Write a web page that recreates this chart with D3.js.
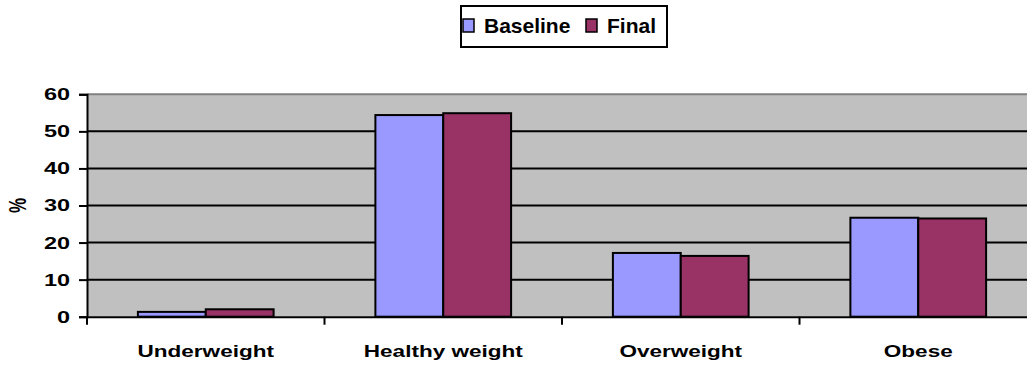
<!DOCTYPE html>
<html>
<head>
<meta charset="utf-8">
<script src="https://cdn.jsdelivr.net/npm/d3@7"></script>
<style>
  html, body { margin: 0; padding: 0; background: #fff; }
  svg { display: block; }
  text { font-family: "Liberation Sans", Arial, sans-serif; font-weight: bold; fill: #000; }
</style>
</head>
<body>
<svg id="chart" width="1027" height="366"></svg>
<script>
// BMI category shares at baseline and at the final visit (%)
const categories = ["Underweight", "Healthy weight", "Overweight", "Obese"];
const seriesNames = ["Baseline", "Final"];
const baseline = [1.3, 54.4, 17.2, 26.7];
const final = [2.0, 54.9, 16.4, 26.5];
const yTicks = [0, 10, 20, 30, 40, 50, 60];
const seriesColors = ["#9999FF", "#993366"];

const svg = d3.select("#chart");

// plot area (runs a little past the right edge of the page)
const plotLeft = 87, plotRight = 1037, plotTop = 94.3, plotBottom = 316.7;
// axis lettering is drawn horizontally widened
const stretch = 1.38;

const x = d3.scaleBand().domain(categories).range([plotLeft, plotRight]).padding(0);
const xs = d3.scaleBand().domain(seriesNames).range([0, x.bandwidth()])
  .paddingInner(0).paddingOuter(0.75);
const y = d3.scaleLinear().domain([0, 60]).range([plotBottom, plotTop]);

// plot background
svg.append("rect")
  .attr("x", plotLeft).attr("y", plotTop)
  .attr("width", plotRight - plotLeft).attr("height", plotBottom - plotTop)
  .attr("fill", "#C0C0C0");

// gridlines
svg.append("g")
  .selectAll("line")
  .data(yTicks.filter(t => t > 0))
  .join("line")
  .attr("x1", plotLeft).attr("x2", plotRight)
  .attr("y1", d => y(d)).attr("y2", d => y(d))
  .attr("stroke", d => d === 60 ? "#808080" : "#000")
  .attr("stroke-width", 2);

// bars
const rows = categories.map((c, i) => ({ cat: c, values: [baseline[i], final[i]] }));
svg.append("g")
  .selectAll("g")
  .data(rows)
  .join("g")
  .attr("transform", d => `translate(${x(d.cat)},0)`)
  .selectAll("rect")
  .data(d => d.values.map((v, j) => ({ name: seriesNames[j], value: v, color: seriesColors[j] })))
  .join("rect")
  .attr("x", d => xs(d.name))
  .attr("width", xs.bandwidth())
  .attr("y", d => y(d.value))
  .attr("height", d => y(0) - y(d.value))
  .attr("fill", d => d.color)
  .attr("stroke", "#000")
  .attr("stroke-width", 2);

// y axis
const yAxis = svg.append("g")
  .attr("transform", `translate(${plotLeft},0)`)
  .call(d3.axisLeft(y).tickValues(yTicks).tickSize(8).tickPadding(9).tickFormat(d3.format("d")));
yAxis.select(".domain").attr("stroke", "#000").attr("stroke-width", 2);
yAxis.selectAll(".tick line").attr("stroke", "#000").attr("stroke-width", 2);
yAxis.selectAll(".tick text")
  .style("font-family", '"Liberation Sans", Arial, sans-serif')
  .style("font-weight", "bold")
  .style("font-size", "17px")
  .attr("fill", "#000")
  .attr("x", -17 / stretch)
  .attr("transform", `scale(${stretch},1)`);

// x axis: tick marks sit on the category boundaries
const xAxis = svg.append("g")
  .attr("transform", `translate(0,${plotBottom})`)
  .call(d3.axisBottom(x).tickSize(0).tickPadding(28));
xAxis.select(".domain").attr("stroke", "#000").attr("stroke-width", 2);
xAxis.selectAll(".tick text")
  .style("font-family", '"Liberation Sans", Arial, sans-serif')
  .style("font-weight", "bold")
  .style("font-size", "17px")
  .attr("fill", "#000")
  .attr("transform", `scale(${stretch * 0.96},1)`);
xAxis.selectAll(".boundary")
  .data(categories)
  .join("line")
  .attr("class", "boundary")
  .attr("x1", d => x(d)).attr("x2", d => x(d))
  .attr("y1", 0).attr("y2", 8)
  .attr("stroke", "#000").attr("stroke-width", 2);

// y axis title
svg.append("text")
  .attr("transform", `translate(26,${(plotTop + plotBottom) / 2}) scale(${stretch},1) rotate(-90)`)
  .attr("text-anchor", "middle")
  .style("font-size", "17px")
  .text("%");

// legend
const legend = svg.append("g");
legend.append("rect")
  .attr("x", 461).attr("y", 6).attr("width", 206).attr("height", 41)
  .attr("fill", "#fff").attr("stroke", "#000").attr("stroke-width", 2);
const legendX = [463, 586];
const items = legend.selectAll("g.item")
  .data(seriesNames)
  .join("g")
  .attr("class", "item")
  .attr("transform", (d, i) => `translate(${legendX[i]},19)`);
items.append("rect")
  .attr("width", 11).attr("height", 13)
  .attr("fill", (d, i) => seriesColors[i])
  .attr("stroke", "#000").attr("stroke-width", 1.5);
items.append("text")
  .attr("x", 21).attr("y", 14)
  .style("font-size", "21px")
  .text(d => d);
</script>
</body>
</html>
